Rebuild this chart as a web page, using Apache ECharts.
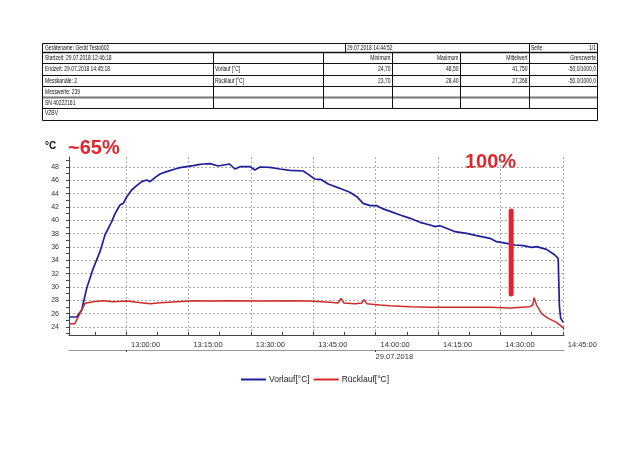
<!DOCTYPE html>
<html>
<head>
<meta charset="utf-8">
<script src="https://cdn.jsdelivr.net/npm/echarts@6/dist/echarts.min.js"></script>
<style>
html,body{margin:0;padding:0;background:#fff;}
#chart{width:640px;height:453px;}
</style>
</head>
<body>
<div id="chart"></div>
<script>
// ---------- DATA ----------
const startTime = '12:46:18';
const endTime = '14:45:18';

const vorlaufTimes = ['12:46:18','12:48:09','12:49:21','12:50:33','12:52:08','12:53:45','12:54:57','12:56:34','12:57:22','12:58:34','12:59:21','13:00:10','13:01:22','13:02:34','13:03:47','13:04:59','13:05:46','13:06:58','13:08:11','13:09:47','13:11:47','13:12:59','13:14:35','13:16:11','13:17:47','13:18:35','13:20:11','13:22:11','13:24:54','13:26:12','13:27:24','13:29:48','13:31:00','13:32:12','13:34:36','13:37:00','13:39:24','13:42:36','13:43:48','13:45:24','13:47:00','13:48:36','13:51:24','13:53:48','13:55:30','13:57:00','13:58:42','14:00:18','14:01:30','14:03:30','14:05:54','14:08:18','14:10:42','14:13:06','14:14:18','14:15:30','14:17:30','14:19:06','14:21:54','14:24:18','14:27:30','14:29:06','14:31:30','14:33:30','14:35:30','14:37:30','14:38:42','14:41:06','14:43:06','14:43:54','14:44:12','14:44:30','14:45:06'];
const vorlaufValues = [25.5,25.5,26.55,29.8,32.8,35.3,37.8,39.8,41.0,42.3,42.55,43.5,44.55,45.2,45.8,46.05,45.8,46.4,46.95,47.3,47.7,47.9,48.05,48.2,48.4,48.45,48.5,48.15,48.45,47.7,48.05,48.05,47.55,48.0,47.95,47.7,47.5,47.4,46.9,46.2,46.1,45.45,44.8,44.2,43.55,42.55,42.2,42.2,41.8,41.35,40.8,40.3,39.7,39.3,39.05,39.2,38.7,38.3,38.05,37.7,37.3,36.8,36.55,36.3,36.2,35.95,36.05,35.65,34.8,34.3,27.05,25.3,24.7];

const ruecklaufTimes = ['12:46:18','12:47:42','12:50:09','12:52:06','12:54:30','12:56:54','13:00:12','13:02:36','13:05:48','13:08:12','13:12:12','13:16:12','13:20:12','13:25:00','13:32:12','13:39:24','13:44:12','13:49:00','13:51:00','13:51:42','13:52:24','13:55:06','13:56:42','13:57:12','13:57:54','14:01:00','14:03:30','14:08:18','14:13:06','14:19:30','14:27:30','14:32:18','14:37:06','14:37:48','14:38:06','14:38:42','14:39:54','14:41:30','14:43:30','14:45:06','14:45:18'];
const ruecklaufValues = [24.5,24.5,27.55,27.8,27.95,27.8,27.9,27.7,27.5,27.65,27.8,27.95,27.9,27.95,27.9,27.95,27.9,27.7,27.6,28.3,27.6,27.5,27.6,28.1,27.5,27.3,27.2,27.05,26.95,26.95,26.95,26.85,27.05,27.3,28.4,27.3,26.0,25.3,24.7,23.9,23.7];

// annotation bar (time, from value, to value)
const markerTime = '14:32:36';
const markerValues = [41.4, 28.95];

const xTickLabels = ['13:00:00','13:15:00','13:30:00','13:45:00','14:00:00','14:15:00','14:30:00','14:45:00'];
const yTickLabels = [24,26,28,30,32,34,36,38,40,42,44,46,48];
const dateLabel = '29.07.2018';

const seriesNames = ['Vorlauf[°C]', 'Rücklauf[°C]'];

// table texts
const tableRow1 = ['Gerätename: Gerät Testo602', '29.07.2018 14:44:52', 'Seite', '1/1'];
const tableLeftCol = ['Startzeit: 29.07.2018 12:46:18','Endzeit: 29.07.2018 14:45:18','Messkanäle: 2','Messwerte: 239','SN 40222161','VZBV'];
const tableChannels = ['Vorlauf [°C]','Rücklauf [°C]'];
const tableHeader = ['Minimum','Maximum','Mittelwert','Grenzwerte'];
const tableVorlauf = ['24,70','48,50','41,750','-50,0/1000,0'];
const tableRuecklauf = ['23,70','28,40','27,268','-50,0/1000,0'];

// ---------- HELPERS ----------
function toMin(s){ const p = s.split(':').map(Number); return p[0]*60 + p[1] + (p[2]||0)/60; }
function fmt(v){ let s = Math.round(v*60); const h = Math.floor(s/3600); s -= h*3600; const m = Math.floor(s/60); s -= m*60;
  const z = n => (n<10?'0':'')+n; return z(h)+':'+z(m)+':'+z(s); }

const xMin = toMin(startTime), xMax = toMin(endTime);
const majorX = xTickLabels.map(toMin);
const tickX = [];
for (let i = 0; i < majorX.length; i++) { tickX.push(majorX[i] - 7.5); tickX.push(majorX[i]); }
const yTicks = [];
for (let v = 23; v <= 49; v++) yTicks.push(v);

const vorlaufData = vorlaufTimes.map((t,i)=>[toMin(t), vorlaufValues[i]]);
const ruecklaufData = ruecklaufTimes.map((t,i)=>[toMin(t), ruecklaufValues[i]]);
const markerData = markerValues.map(v=>[toMin(markerTime), v]);

// ---------- TABLE GRAPHICS ----------
const FONT = '"Liberation Sans", Arial, sans-serif';
const g = [];
function txt(x, y, text, align){
  g.push({type:'text', x:x, y:y, scaleX:0.71, silent:true,
    style:{text:text, fontSize:7, fontFamily:FONT, fill:'#111', align:align||'left', verticalAlign:'middle'}});
}
function ln(x1,y1,x2,y2,w,c){
  g.push({type:'line', silent:true, shape:{x1:x1,y1:y1,x2:x2,y2:y2}, style:{stroke:c||'#111', lineWidth:w||1}});
}
const TL = 42.5, TR = 597.5;
const rowY = [43.5, 52.5, 63.5, 75.5, 86.5, 97.5, 108.5, 120.5];
// horizontal
for (let i = 0; i < rowY.length; i++) {
  let w = 1, c = '#111';
  if (i === 5) { w = 2; c = '#777'; }
  if (i === 1) { w = 1.5; }
  ln(TL, rowY[i], TR, rowY[i], w, c);
}
ln(TL, rowY[0], TL, rowY[7]); ln(TR, rowY[0], TR, rowY[7]);
// row 1 separators
ln(345.5, rowY[0], 345.5, rowY[1]); ln(529.5, rowY[0], 529.5, rowY[1]);
// rows 2-6 separators
[213.5, 323.5, 392.5, 460.5, 529.5].forEach(x => ln(x, rowY[1], x, rowY[6]));
// texts
const rowMid = [48, 58, 69.5, 81, 92, 103, 113];
txt(45, rowMid[0], tableRow1[0]);
txt(347, rowMid[0], tableRow1[1]);
txt(531, rowMid[0], tableRow1[2]);
txt(596, rowMid[0], tableRow1[3], 'right');
tableLeftCol.forEach((t,i)=>txt(45, rowMid[i+1], t));
tableChannels.forEach((t,i)=>txt(215, rowMid[i+2], t));
const rightEdges = [390.5, 458.5, 527.5, 596];
tableHeader.forEach((t,i)=>txt(rightEdges[i], rowMid[1], t, 'right'));
tableVorlauf.forEach((t,i)=>txt(rightEdges[i], rowMid[2], t, 'right'));
tableRuecklauf.forEach((t,i)=>txt(rightEdges[i], rowMid[3], t, 'right'));

// chart annotations text
g.push({type:'text', x:45, y:146, silent:true, style:{text:'°C', fontSize:10, fontWeight:'bold', fontFamily:FONT, fill:'#111', align:'left', verticalAlign:'middle'}});
g.push({type:'text', x:68, y:148, silent:true, style:{text:'~65%', fontSize:20, fontWeight:'bold', fontFamily:FONT, fill:'#e0262c', align:'left', verticalAlign:'middle'}});
g.push({type:'text', x:465, y:162, silent:true, style:{text:'100%', fontSize:20, fontWeight:'bold', fontFamily:FONT, fill:'#e0262c', align:'left', verticalAlign:'middle'}});

// ---------- CHART ----------
const chart = echarts.init(document.getElementById('chart'), null, {renderer:'canvas'});
const gridLine = {show:true, lineStyle:{color:'#aaa', type:[2,2], width:1}};
const option = {
  backgroundColor:'#fff',
  animation:false,
  textStyle:{fontFamily:FONT},
  graphic: g,
  grid:{left:69, top:157, width:495, height:178, containLabel:false},
  legend:{
    data: seriesNames, left:236, top:370, icon:'rect', itemWidth:25, itemHeight:2, itemGap:4,
    textStyle:{fontSize:8.5, color:'#222', fontFamily:FONT, padding:[0,0,0,-2]}
  },
  xAxis:[
    { type:'value', min:xMin, max:xMax, position:'bottom',
      axisLine:{show:true, lineStyle:{color:'#444', width:1}},
      axisTick:{show:true, inside:true, length:3, customValues:tickX, lineStyle:{color:'#444'}},
      axisLabel:{show:true, customValues:majorX, formatter:fmt, align:'left', margin:6, fontSize:7.5, color:'#333', padding:[0,0,0,5]},
      splitLine:{show:false}
    },
    { type:'value', min:xMin, max:xMax, position:'bottom',
      axisLine:{show:false}, axisTick:{show:false, customValues:majorX}, axisLabel:{show:false},
      splitLine:gridLine
    },
    { type:'value', min:xMin, max:xMax, position:'bottom', offset:15,
      axisLine:{show:true, lineStyle:{color:'#999', width:1}},
      axisTick:{show:true, length:2, customValues:[majorX[0], majorX[4]], lineStyle:{color:'#444'}},
      axisLabel:{show:true, customValues:[majorX[4]], formatter:()=>dateLabel, align:'left', margin:3, fontSize:7.5, color:'#333'},
      splitLine:{show:false}
    }
  ],
  yAxis:[
    { type:'value', min:22.8, max:49.5, position:'left',
      axisLine:{show:true, lineStyle:{color:'#444'}},
      axisTick:{show:true, length:3, customValues:yTicks, lineStyle:{color:'#444'}},
      axisLabel:{show:true, customValues:yTickLabels, fontSize:7, color:'#333', margin:10},
      splitLine:{show:false}
    },
    { type:'value', min:22.8, max:49.5, position:'left',
      axisLine:{show:false}, axisTick:{show:false, customValues:yTickLabels}, axisLabel:{show:false},
      splitLine:gridLine
    }
  ],
  series:[
    { name:seriesNames[0], type:'line', data:vorlaufData, xAxisIndex:0, yAxisIndex:0,
      symbol:'none', lineStyle:{color:'#1f1f9c', width:1.7}, itemStyle:{color:'#1f1f9c'}, z:3 },
    { name:seriesNames[1], type:'line', data:ruecklaufData, xAxisIndex:0, yAxisIndex:0,
      symbol:'none', lineStyle:{color:'#cf2b2b', width:1.5}, itemStyle:{color:'#cf2b2b'}, z:3 },
    { name:'marker', type:'line', data:markerData, xAxisIndex:0, yAxisIndex:0,
      symbol:'none', lineStyle:{color:'#e3242b', width:5, cap:'round'}, z:4 }
  ]
};
chart.setOption(option);
</script>
</body>
</html>
